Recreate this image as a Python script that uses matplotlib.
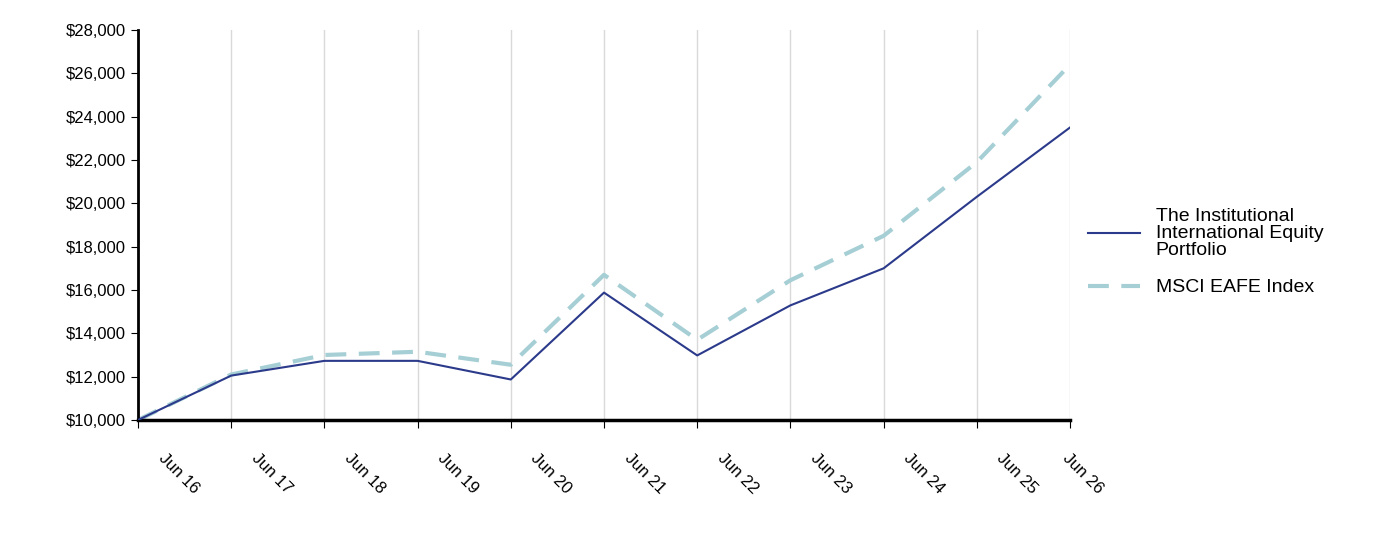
import matplotlib
matplotlib.use("Agg")
import matplotlib.pyplot as plt
import matplotlib.transforms as mtransforms
from matplotlib.ticker import FuncFormatter

plt.rcParams['font.family'] = ['Liberation Sans', 'DejaVu Sans']

labels = ["Jun 16","Jun 17","Jun 18","Jun 19","Jun 20","Jun 21","Jun 22","Jun 23","Jun 24","Jun 25","Jun 26"]
portfolio = [10000, 12050, 12730, 12730, 11870, 15880, 12980, 15290, 17000, 20300, 23500]
msci = [10000, 12100, 13000, 13150, 12550, 16700, 13700, 16450, 18500, 21900, 26400]

fig = plt.figure(figsize=(13.92, 5.4), dpi=100)
ax = fig.add_axes([138/1392, 1-420/540, (1070-138)/1392, 390/540])
x = list(range(len(labels)))
ax.plot(x, msci, color='#a6cfd5', lw=3, ls=(0, (5, 3)), label='MSCI EAFE Index', zorder=2)
ax.plot(x, portfolio, color='#2b3a8a', lw=1.5, label='The Institutional\nInternational Equity\nPortfolio', zorder=3)
ax.set_xlim(0, 10)
ax.set_ylim(10000, 28000)
ax.set_yticks(range(10000, 28001, 2000))
ax.yaxis.set_major_formatter(FuncFormatter(lambda v, p: f"${v:,.0f}"))
ax.set_xticks(x)
ax.set_xticklabels(labels, rotation=-45, ha='left', va='top', rotation_mode='anchor')
ax.tick_params(axis='x', pad=16, labelsize=12, length=6)
ax.tick_params(axis='y', labelsize=12, length=5)
off = mtransforms.ScaledTranslation(0.28, 0, fig.dpi_scale_trans)
for i, lab in enumerate(ax.get_xticklabels()):
    if i < len(labels) - 1:
        lab.set_transform(lab.get_transform() + off)
ax.grid(axis='x', color='#d9d9d9', lw=1)
ax.set_axisbelow(True)
for s in ['top', 'right']:
    ax.spines[s].set_visible(False)
ax.spines['left'].set_linewidth(2)
ax.spines['bottom'].set_linewidth(2.5)
h, l = ax.get_legend_handles_labels()
leg = ax.legend(h[::-1], l[::-1], loc='center left', bbox_to_anchor=(1.0, 0.43), frameon=False, fontsize=14,
          handlelength=2.7, labelspacing=1.0)
for t in leg.get_texts():
    t.set_linespacing(1.0)
fig.savefig("out.png", dpi=100)
